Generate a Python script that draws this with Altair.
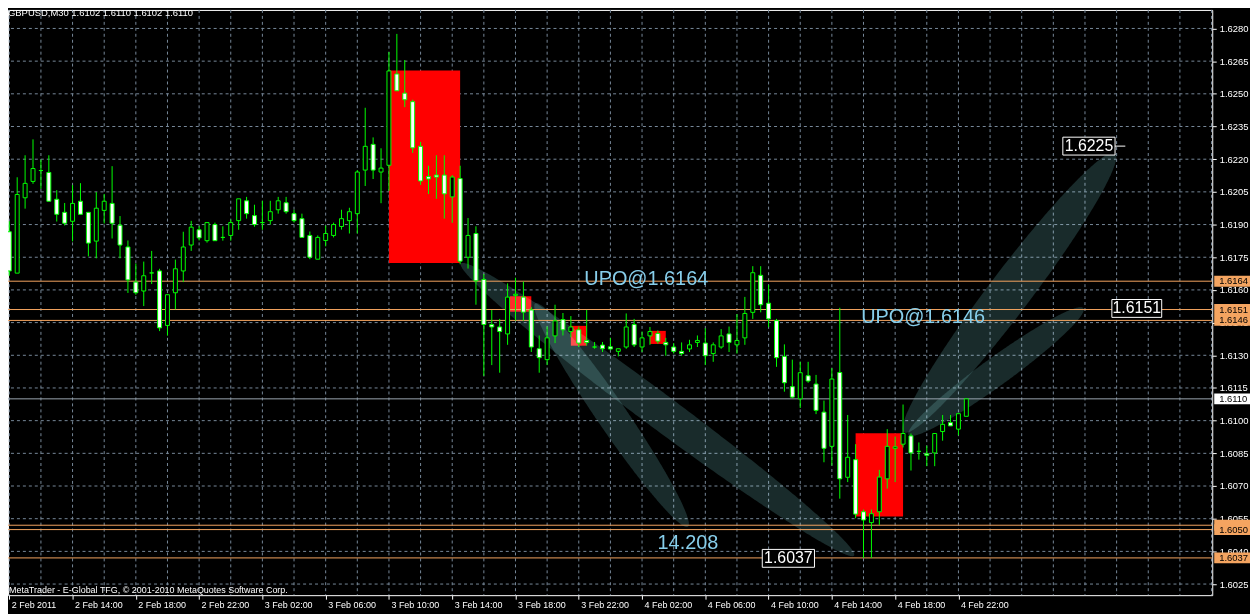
import json
import math
import altair as alt
import pandas as pd

# ---------------- data ----------------
opens = [1.61867, 1.61677, 1.62023, 1.62098, 1.62148, 1.62139, 1.62016, 1.61956, 1.61915, 1.62007,
         1.61956, 1.61824, 1.61965, 1.61997, 1.61897, 1.61797, 1.61636, 1.61595, 1.61678, 1.61687,
         1.61437, 1.61587, 1.61687, 1.61806, 1.61876, 1.61826, 1.61900, 1.61841, 1.61850, 1.61918,
         1.62009, 1.61941, 1.61909, 1.61918, 1.61968, 1.62000, 1.61950, 1.61927, 1.61850, 1.61741,
         1.61827, 1.61850, 1.61891, 1.61918, 1.61950, 1.62150, 1.62268, 1.62141, 1.62172, 1.62591,
         1.62503, 1.62464, 1.62259, 1.62120, 1.62127, 1.62127, 1.62027, 1.62111, 1.61750, 1.61859,
         1.61648, 1.61441, 1.61430, 1.61398, 1.61575, 1.61567, 1.61508, 1.61330, 1.61280, 1.61389,
         1.61464, 1.61409, 1.61417, 1.61368, 1.61338, 1.61347, 1.61339, 1.61318, 1.61338, 1.61441,
         1.61338, 1.61389, 1.61400, 1.61359, 1.61338, 1.61318, 1.61329, 1.61359, 1.61356, 1.61308,
         1.61338, 1.61398, 1.61348, 1.61380, 1.61497, 1.61667, 1.61539, 1.61459, 1.61295, 1.61156,
         1.61100, 1.61206, 1.61168, 1.61039, 1.60882, 1.61221, 1.60740, 1.60821, 1.60582, 1.60532,
         1.60582, 1.60733, 1.60873, 1.60892, 1.60930, 1.60859, 1.60848, 1.60852, 1.60950, 1.60991,
         1.60961, 1.61020]
highs = [1.61915, 1.62117, 1.62218, 1.62291, 1.62198, 1.62218, 1.62058, 1.61999, 1.62081, 1.62090,
         1.61956, 1.62049, 1.62040, 1.62168, 1.61939, 1.61827, 1.61721, 1.61730, 1.61779, 1.61697,
         1.61578, 1.61739, 1.61867, 1.61917, 1.61893, 1.61909, 1.61909, 1.61892, 1.61923, 1.62018,
         1.62027, 1.61991, 1.62009, 1.62009, 1.62027, 1.62027, 1.61968, 1.61950, 1.61868, 1.61850,
         1.61895, 1.61909, 1.61968, 1.61977, 1.62150, 1.62436, 1.62300, 1.62250, 1.62692, 1.62775,
         1.62655, 1.62473, 1.62279, 1.62170, 1.62218, 1.62218, 1.62127, 1.62170, 1.61930, 1.61892,
         1.61673, 1.61508, 1.61467, 1.61630, 1.61656, 1.61638, 1.61521, 1.61391, 1.61432, 1.61532,
         1.61494, 1.61480, 1.61432, 1.61508, 1.61361, 1.61361, 1.61380, 1.61330, 1.61492, 1.61467,
         1.61409, 1.61430, 1.61414, 1.61380, 1.61356, 1.61359, 1.61371, 1.61391, 1.61424, 1.61359,
         1.61420, 1.61432, 1.61489, 1.61568, 1.61709, 1.61709, 1.61623, 1.61467, 1.61350, 1.61280,
         1.61270, 1.61270, 1.61210, 1.61092, 1.61241, 1.61518, 1.61026, 1.60892, 1.60592, 1.60592,
         1.60774, 1.60961, 1.60927, 1.61074, 1.60941, 1.60900, 1.60885, 1.60941, 1.61026, 1.61026,
         1.61036, 1.61100]
lows = [1.61665, 1.61677, 1.61973, 1.62087, 1.62064, 1.62007, 1.61914, 1.61896, 1.61823, 1.61947,
        1.61754, 1.61745, 1.61905, 1.61836, 1.61745, 1.61586, 1.61578, 1.61526, 1.61627, 1.61411,
        1.61390, 1.61511, 1.61636, 1.61779, 1.61827, 1.61817, 1.61826, 1.61826, 1.61826, 1.61876,
        1.61927, 1.61890, 1.61876, 1.61900, 1.61950, 1.61950, 1.61909, 1.61841, 1.61741, 1.61741,
        1.61800, 1.61841, 1.61877, 1.61859, 1.61859, 1.62077, 1.62109, 1.61998, 1.62055, 1.62514,
        1.62439, 1.62229, 1.62082, 1.62040, 1.62018, 1.61927, 1.61908, 1.61718, 1.61698, 1.61532,
        1.61205, 1.61255, 1.61220, 1.61348, 1.61459, 1.61459, 1.61315, 1.61220, 1.61255, 1.61356,
        1.61391, 1.61383, 1.61338, 1.61345, 1.61330, 1.61315, 1.61323, 1.61295, 1.61330, 1.61338,
        1.61315, 1.61348, 1.61353, 1.61298, 1.61308, 1.61298, 1.61315, 1.61338, 1.61255, 1.61270,
        1.61330, 1.61315, 1.61308, 1.61348, 1.61467, 1.61497, 1.61429, 1.61247, 1.61133, 1.61103,
        1.61058, 1.61174, 1.61030, 1.60809, 1.60794, 1.60642, 1.60718, 1.60552, 1.60370, 1.60370,
        1.60521, 1.60688, 1.60718, 1.60877, 1.60771, 1.60821, 1.60791, 1.60791, 1.60908, 1.60976,
        1.60933, 1.61020]
closes = [1.61687, 1.62038, 1.62089, 1.62157, 1.62148, 1.62007, 1.61947, 1.61906, 1.61997, 1.61947,
          1.61815, 1.61975, 1.62007, 1.61906, 1.61806, 1.61646, 1.61587, 1.61665, 1.61678, 1.61426,
          1.61578, 1.61697, 1.61797, 1.61888, 1.61839, 1.61909, 1.61826, 1.61841, 1.61909, 1.62018,
          1.61950, 1.61900, 1.61909, 1.61959, 1.62009, 1.61959, 1.61918, 1.61841, 1.61750, 1.61841,
          1.61859, 1.61900, 1.61927, 1.61959, 1.62141, 1.62259, 1.62150, 1.62159, 1.62605, 1.62514,
          1.62473, 1.62252, 1.62100, 1.62109, 1.62118, 1.62041, 1.62118, 1.61732, 1.61850, 1.61642,
          1.61441, 1.61430, 1.61409, 1.61567, 1.61580, 1.61498, 1.61338, 1.61289, 1.61380, 1.61458,
          1.61417, 1.61430, 1.61356, 1.61359, 1.61338, 1.61330, 1.61329, 1.61330, 1.61430, 1.61348,
          1.61380, 1.61409, 1.61365, 1.61348, 1.61318, 1.61308, 1.61348, 1.61368, 1.61298, 1.61348,
          1.61389, 1.61359, 1.61368, 1.61492, 1.61679, 1.61532, 1.61467, 1.61289, 1.61174, 1.61108,
          1.61220, 1.61182, 1.61047, 1.60873, 1.61191, 1.60733, 1.60832, 1.60571, 1.60544, 1.60573,
          1.60741, 1.60882, 1.60880, 1.60941, 1.60852, 1.60859, 1.60841, 1.60941, 1.60983, 1.60976,
          1.61032, 1.61100]

date_labels = ["2 Feb 2011", "2 Feb 14:00", "2 Feb 18:00", "2 Feb 22:00", "3 Feb 02:00",
               "3 Feb 06:00", "3 Feb 10:00", "3 Feb 14:00", "3 Feb 18:00", "3 Feb 22:00",
               "4 Feb 02:00", "4 Feb 06:00", "4 Feb 10:00", "4 Feb 14:00", "4 Feb 18:00",
               "4 Feb 22:00"]
price_ticks = [1.6025, 1.6040, 1.6055, 1.6070, 1.6085, 1.6100, 1.6115, 1.6130, 1.6145,
               1.6160, 1.6175, 1.6190, 1.6205, 1.6220, 1.6235, 1.6250, 1.6265, 1.6280]

level_prices = [1.6164, 1.6151, 1.6146, 1.6052, 1.6050, 1.6037]
level_labels = ["1.6164", "1.6151", "1.6146", "", "1.6050", "1.6037"]
bid_price = [1.6110]
bid_label = ["1.6110"]

zone_bar0 = [48.0, 63.3, 71.0, 81.0, 107.0]
zone_bar1 = [57.0, 66.0, 73.0, 83.0, 113.0]
zone_top = [1.62607, 1.61571, 1.61435, 1.61412, 1.60942]
zone_bot = [1.61723, 1.61500, 1.61344, 1.61352, 1.60560]

leaf_bar0 = [57.1, 66.5, 113.1, 113.7]
leaf_p0 = [1.61721, 1.61538, 1.60947, 1.60934]
leaf_bar1 = [106.8, 85.8, 139.8, 135.8]
leaf_p1 = [1.60381, 1.60513, 1.62228, 1.61516]
leaf_ratio = [0.07, 0.11, 0.12, 0.13]

note_text = ["UPO@1.6164", "UPO@1.6146", "14.208"]
note_bar = [72.7, 107.7, 81.96]
note_price = [1.61649, 1.61475, 1.60440]

box_text = ["1.6225", "1.6151", "1.6037"]
box_bar0 = [133.2, 139.4, 95.2]
box_bar1 = [139.8, 145.7, 101.8]
box_price = [1.62260, 1.61515, 1.60368]

title_text = "GBPUSD,M30  1.6102 1.6110 1.6102 1.6110"
copyright_text = "MetaTrader - E-Global TFG, \u00a9 2001-2010 MetaQuotes Software Corp."

# ---------------- layout ----------------
W, H = 1212, 589
XD = [-0.1625, 152.09]
YD = [1.60199, 1.62885]
SX = W / (XD[1] - XD[0])
SY = H / (YD[1] - YD[0])
FONT = "Liberation Sans"
GRID = "#778899"
ORANGE = "#F4A460"
GREEN = "#00FF00"
FAN_SCREEN = "#192B2B"

xs = alt.Scale(domain=XD, nice=False, zero=False)
ys = alt.Scale(domain=YD, nice=False, zero=False)

label_expr = json.dumps(date_labels) + "[round(datum.value / 8)]"
x_axis = alt.Axis(values=list(range(0, 8 * len(date_labels), 8)), labelExpr=label_expr,
                  labelAlign="left", labelBaseline="top", labelColor="white", labelFont=FONT,
                  labelFontSize=9, labelPadding=1, labelOffset=2, labelFlush=False,
                  labelOverlap=False, tickColor="white", tickSize=4, domain=False, grid=False,
                  title=None)
y_axis = alt.Axis(orient="right", values=price_ticks, format=".4f", labelColor="white",
                  labelFont=FONT, labelFontSize=9.5, labelPadding=3, labelFlush=False,
                  labelOverlap=False, tickColor="white", tickSize=4, domain=False, grid=False,
                  title=None)


def X(field):
    return alt.X(field, type="quantitative", scale=xs, axis=x_axis)


def Y(field):
    return alt.Y(field, type="quantitative", scale=ys, axis=y_axis, stack=None)


# candles
rows = []
for i, (o, h, l, c) in enumerate(zip(opens, highs, lows, closes)):
    rows.append(dict(i=i, x0=i - 0.25, x1=i + 0.25, o=o, h=h, l=l, c=c,
                     top=max(o, c), bot=min(o, c),
                     kind="bear" if c < o else "bull"))
cdf = pd.DataFrame(rows)

# grid
vgrid = pd.DataFrame({"g": list(range(0, 153, 4))})
hgrid = pd.DataFrame({"p": price_ticks})

zones = pd.DataFrame({"b0": zone_bar0, "b1": zone_bar1, "t": zone_top, "bt": zone_bot})


def leaf_rows(k, b0, p0, b1, p1, ratio, n=220):
    x0, y0, x1, y1 = b0 * SX, p0 * SY, b1 * SX, p1 * SY
    cx, cy = (x0 + x1) / 2, (y0 + y1) / 2
    dx, dy = x1 - x0, y1 - y0
    L = math.hypot(dx, dy)
    a = L / 2
    b = a * ratio
    ux, uy = dx / L, dy / L
    vx, vy = -uy, ux
    xm = math.sqrt(a * a * ux * ux + b * b * vx * vx)
    A = uy * uy / (a * a) + vy * vy / (b * b)
    out = []
    for j in range(n + 1):
        xx = -xm * math.cos(math.pi * j / n)
        B = 2 * xx * (ux * uy / (a * a) + vx * vy / (b * b))
        C = xx * xx * (ux * ux / (a * a) + vx * vx / (b * b)) - 1
        disc = max(B * B - 4 * A * C, 0.0)
        r1 = (-B - math.sqrt(disc)) / (2 * A)
        r2 = (-B + math.sqrt(disc)) / (2 * A)
        out.append(dict(leaf=k, bx=(cx + xx) / SX, lo=(cy + r1) / SY, hi=(cy + r2) / SY))
    return out


lrows = []
for k in range(len(leaf_bar0)):
    lrows += leaf_rows(k, leaf_bar0[k], leaf_p0[k], leaf_bar1[k], leaf_p1[k], leaf_ratio[k])
ldf = pd.DataFrame(lrows)

levels = pd.DataFrame({"p": level_prices, "lab": level_labels})
levels["pt"] = levels["p"] + 0.00025
levels["pb"] = levels["p"] - 0.00025
bid = pd.DataFrame({"p": bid_price, "lab": bid_label})
bid["pt"] = bid["p"] + 0.00025
bid["pb"] = bid["p"] - 0.00025

notes = pd.DataFrame({"t": note_text, "b": note_bar, "p": note_price})
boxes = pd.DataFrame({"t": box_text, "b0": box_bar0, "b1": box_bar1, "p": box_price})
boxes["bc"] = (boxes["b0"] + boxes["b1"]) / 2
boxes["pt"] = boxes["p"] + 0.00041
boxes["pb"] = boxes["p"] - 0.00041
tick_line = pd.DataFrame({"b0": [box_bar1[0]], "b1": [box_bar1[0] + 1.3], "p": [box_price[0]]})

# ---------------- layers ----------------
vg = alt.Chart(vgrid).mark_rule(color=GRID, strokeDash=[3, 3], strokeWidth=1).encode(x=X("g"))
hg = alt.Chart(hgrid).mark_rule(color=GRID, strokeDash=[3, 3], strokeWidth=1).encode(y=Y("p"))

zone_layer = alt.Chart(zones).mark_rect(color="#FF0000").encode(
    x=X("b0"), x2="b1", y=Y("t"), y2="bt")

leaf_layer = alt.Chart(ldf).mark_area(fill=FAN_SCREEN, fillOpacity=1, strokeOpacity=0,
                                      blend="screen", interpolate="linear").encode(
    x=X("bx"), y=Y("hi"), y2="lo", detail="leaf:N")

level_lines = alt.Chart(levels).mark_rule(color=ORANGE, strokeWidth=1).encode(y=Y("p"))
bid_line = alt.Chart(bid).mark_rule(color="#9aa5b0", strokeWidth=1).encode(y=Y("p"))

wick_up = alt.Chart(cdf).mark_rule(color=GREEN, strokeWidth=1).encode(x=X("i"), y=Y("h"), y2="top")
wick_dn = alt.Chart(cdf).mark_rule(color=GREEN, strokeWidth=1).encode(x=X("i"), y=Y("bot"), y2="l")
bodies = alt.Chart(cdf).mark_rect(stroke=GREEN, strokeWidth=1).encode(
    x=X("x0"), x2="x1", y=Y("top"), y2="bot",
    fill=alt.Fill("kind:N", scale=alt.Scale(domain=["bear", "bull"], range=["white", "black"]),
                  legend=None))

note_layer = alt.Chart(notes).mark_text(align="left", baseline="middle", font=FONT,
                                        fontSize=20, color="#87CEEB").encode(
    x=X("b"), y=Y("p"), text="t:N")

box_rect = alt.Chart(boxes).mark_rect(fill="black", stroke="white", strokeWidth=1).encode(
    x=X("b0"), x2="b1", y=Y("pt"), y2="pb")
box_txt = alt.Chart(boxes).mark_text(align="center", baseline="middle", font=FONT,
                                     fontSize=16, color="white").encode(
    x=X("bc"), y=Y("p"), text="t:N")
tick_rule = alt.Chart(tick_line).mark_rule(color="white", strokeWidth=1).encode(
    x=X("b0"), x2="b1", y=Y("p"))

lvl_box = alt.Chart(levels).mark_rect(fill=ORANGE).encode(
    x=alt.value(W + 2), x2=alt.value(W + 40), y=Y("pt"), y2="pb")
lvl_txt = alt.Chart(levels).mark_text(align="left", baseline="middle", font=FONT,
                                      fontSize=9.5, color="black").encode(
    x=alt.value(W + 7), y=Y("p"), text="lab:N")
bid_box = alt.Chart(bid).mark_rect(fill="white").encode(
    x=alt.value(W + 2), x2=alt.value(W + 40), y=Y("pt"), y2="pb")
bid_txt = alt.Chart(bid).mark_text(align="left", baseline="middle", font=FONT,
                                   fontSize=9.5, color="black").encode(
    x=alt.value(W + 7), y=Y("p"), text="lab:N")

title_layer = alt.Chart(pd.DataFrame({"t": [title_text]})).mark_text(
    align="left", baseline="middle", font=FONT, fontSize=9.5, color="white").encode(
    x=alt.value(0), y=alt.value(3), text="t:N")
copy_layer = alt.Chart(pd.DataFrame({"t": [copyright_text]})).mark_text(
    align="left", baseline="middle", font=FONT, fontSize=9, color="white").encode(
    x=alt.value(1), y=alt.value(H - 5), text="t:N")

chart = alt.layer(
    vg, hg, zone_layer, leaf_layer, level_lines, bid_line,
    wick_up, wick_dn, bodies, note_layer, box_rect, box_txt, tick_rule,
    bid_box, bid_txt, lvl_box, lvl_txt, title_layer, copy_layer
).properties(
    width=W, height=H,
    autosize=alt.AutoSizeParams(type="none"),
    padding={"left": 0, "top": 0, "right": 38, "bottom": 17},
    background="black",
).configure_view(stroke="white", strokeWidth=1)

chart.save("out.html", embed_options={"renderer": "svg", "actions": False})
